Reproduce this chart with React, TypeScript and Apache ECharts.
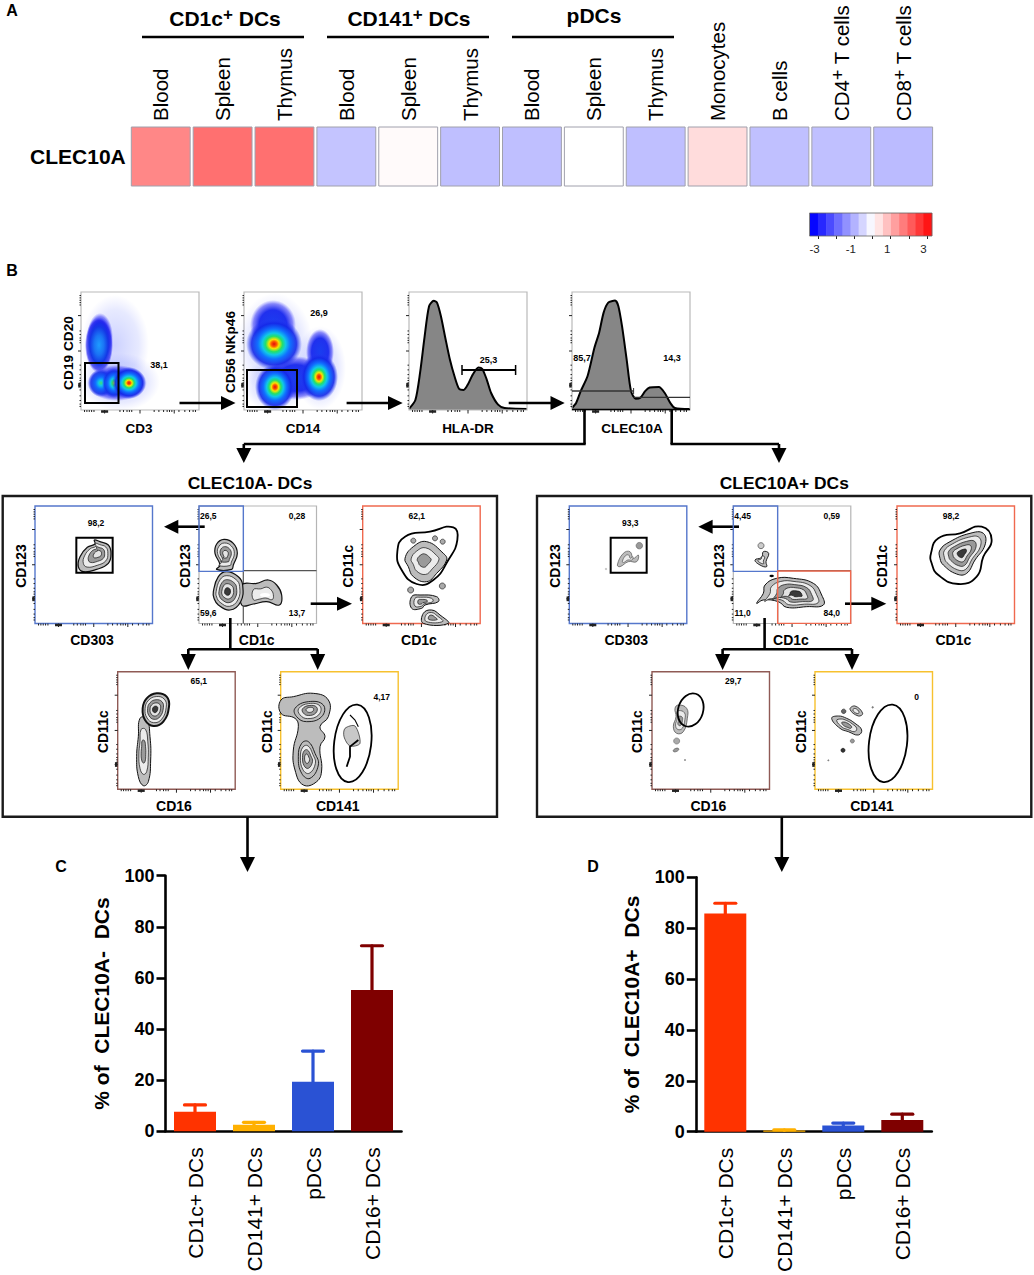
import React, { useEffect, useRef } from "react";
import * as echarts from "echarts";

const FONT = '"Liberation Sans", Arial, sans-serif';

// Panel A
const heatCategories = ["Blood", "Spleen", "Thymus", "Blood", "Spleen", "Thymus", "Blood", "Spleen", "Thymus", "Monocytes", "B cells", "CD4+ T cells", "CD8+ T cells"];
const heatValues = [1.55, 1.85, 1.85, -0.76, 0.07, -0.83, -0.83, 0, -0.83, 0.45, -0.82, -0.82, -0.88];
const heatRows = ["CLEC10A"];
const colorbarTicks = [-3, -1, 1, 3];
const colorbarSteps = [-3.22, -2.78, -2.33, -1.88, -1.43, -0.99, -0.54, -0.1, 0.35, 0.8, 1.24, 1.69, 2.14, 2.59, 3.03];

// Panels C and D
const barCategories = ["CD1c+ DCs", "CD141+ DCs", "pDCs", "CD16+ DCs"];
const barColors = ["#ff3300", "#ffb000", "#2a52d4", "#7f0000"];
const negativeMeans = [7.6, 2.6, 19.4, 55.3];
const negativeUpper = [10.3, 3.5, 31.4, 72.6];
const positiveMeans = [85.8, 0.5, 2.4, 4.6];
const positiveUpper = [89.8, 0.7, 3.4, 6.9];

// Histograms (percent of plot width, percent of plot height)
const hlaX = [0, 5.4, 9.3, 13.2, 17, 21, 23.7, 27, 31, 34.6, 38.5, 42.4, 46.3, 50, 54, 58.8, 62, 65.8, 69.6, 75.5, 81, 100];
const hlaY = [1, 8.5, 31, 62, 88, 92.5, 91, 79.7, 60, 43, 28.8, 18, 17, 21.8, 30, 36, 35, 26, 14.4, 4.5, 1.7, 0.8];
const clecX = [0, 3.5, 7.4, 13.2, 19, 23, 26.8, 30.7, 36.5, 39.3, 42.4, 46.3, 50, 54, 58, 62, 65.8, 73.6, 78.6, 83.3, 87.2, 100];
const clecY = [1.7, 6, 16, 28.8, 52.8, 65.5, 82.5, 91, 92.7, 88, 71, 42.9, 16, 9.6, 10.5, 16, 19, 19.5, 14.4, 6, 1.7, 0.8];

type P = [number, number];
const els: any[] = [];
const add = (e: any) => els.push({ silent: true, z: 10, ...e });
const line = (x1: number, y1: number, x2: number, y2: number, stroke = "#000", lineWidth = 2.6) =>
  add({ type: "line", shape: { x1, y1, x2, y2 }, style: { stroke, lineWidth } });
const frame = (x: number, y: number, w: number, h: number, stroke: string, lineWidth = 1.2) =>
  add({ type: "rect", shape: { x, y, width: w, height: h }, style: { fill: "none", stroke, lineWidth } });
const text = (x: number, y: number, t: string, fontSize: number, rot = 0, fontWeight: any = "bold") =>
  add({
    type: "text", x, y, rotation: rot,
    style: { text: t, fill: "#000", fontFamily: FONT, fontSize, fontWeight, align: "center", textAlign: "center", verticalAlign: "middle", textVerticalAlign: "middle" },
  });
const head = (pts: P[]) => add({ type: "polygon", shape: { points: pts }, style: { fill: "#000" } });
const arrowR = (x1: number, x2: number, y: number, hs: number, hw = 7) => {
  line(x1, y, hs + 1, y); head([[hs, y - hw], [x2, y], [hs, y + hw]]);
};
const arrowL = (x1: number, x2: number, y: number, hs: number, hw = 7) => {
  line(x1, y, hs - 1, y); head([[hs, y - hw], [x2, y], [hs, y + hw]]);
};
const arrowD = (x: number, y1: number, y2: number, hs: number, hw = 7.5) => {
  line(x, y1, x, hs + 1); head([[x - hw, hs], [x, y2], [x + hw, hs]]);
};

const tickFracs = [0.03, 0.05, 0.07, 0.09, 0.11, 0.2, 0.33, 0.36, 0.39, 0.41, 0.43, 0.5, 0.62, 0.66, 0.7, 0.73, 0.75, 0.77, 0.79, 0.83, 0.88, 0.92, 0.95, 0.97];
const ticks = (x: number, y: number, w: number, h: number) => {
  tickFracs.forEach((f) => {
    const major = f === 0.2 || f === 0.5 || f === 0.79;
    line(x + w * f, y + h, x + w * f, y + h + (major ? 3.5 : 2), "#222", 1);
    line(x - (major ? 3 : 1.5), y + h * f, x, y + h * f, "#222", 1);
  });
  line(x + w * 0.17, y + h + 1.5, x + w * 0.23, y + h + 1.5, "#222", 2.5);
  line(x - 1.5, y + h * 0.77, x - 1.5, y + h * 0.81, "#222", 2.5);
};

const blobFill = (stops: [number, string][]) =>
  new (echarts.graphic as any).RadialGradient(0.5, 0.5, 0.5, stops.map(([offset, color]) => ({ offset, color })));
const HOT: [number, string][] = [[0, "#e0100c"], [0.1, "#ff5a00"], [0.18, "#f5e600"], [0.3, "#22e06a"], [0.42, "#10c8e8"], [0.58, "#1070ff"], [0.8, "rgba(20,40,232,0.9)"], [1, "rgba(40,60,245,0)"]];
const WARM: [number, string][] = [[0, "#d8e800"], [0.14, "#30e060"], [0.3, "#10c8e8"], [0.5, "#1070ff"], [0.8, "rgba(20,50,232,0.8)"], [1, "rgba(40,60,245,0)"]];
const CYAN: [number, string][] = [[0, "#40e070"], [0.18, "#10c8e8"], [0.42, "#1070ff"], [0.78, "rgba(20,50,232,0.8)"], [1, "rgba(40,60,245,0)"]];
const COOL: [number, string][] = [[0, "#1e9cff"], [0.35, "#1a74f5"], [0.65, "#1438e6"], [0.88, "rgba(32,32,238,0.7)"], [1, "rgba(70,70,255,0)"]];
const DEEP: [number, string][] = [[0, "#1a3ef0"], [0.6, "#2030ee"], [0.85, "rgba(50,50,245,0.55)"], [1, "rgba(80,80,255,0)"]];
const DUST: [number, string][] = [[0, "rgba(60,80,255,0.26)"], [0.7, "rgba(70,90,255,0.13)"], [1, "rgba(90,100,255,0)"]];
const ell = (cx: number, cy: number, rx: number, ry: number, fill: any, rotation = 0, stroke?: string, lineWidth = 1) =>
  add({ type: "ellipse", x: cx, y: cy, rotation, shape: { cx: 0, cy: 0, rx, ry }, style: stroke ? { fill, stroke, lineWidth } : { fill } });

const GREYS = ["#bcbcbc", "#ececec", "#9a9a9a", "#e4e4e4", "#3a3a3a"];
const contour = (pts: P[], c: P, levels = 3, outer = 1.2, stroke = "#111") => {
  for (let i = 0; i < levels; i++) {
    const s = 1 - i / levels;
    add({
      type: "polygon",
      shape: { points: pts.map(([x, y]) => [c[0] + (x - c[0]) * s, c[1] + (y - c[1]) * s]), smooth: 0.45 },
      style: { fill: GREYS[i % GREYS.length], stroke, lineWidth: i === 0 ? outer : 0.7 },
    });
  }
};
const gateShape = (pts: P[], lineWidth = 1.8) =>
  add({ type: "polygon", shape: { points: pts, smooth: 0.5 }, style: { fill: "none", stroke: "#000", lineWidth } });

const buildPanelB = () => {
  // Panel letters
  text(12, 10, "A", 16); text(12, 270, "B", 16); text(61, 866, "C", 16); text(593, 866, "D", 16);

  // Panel A group headings
  [[142, 304], [327, 489], [512, 674]].forEach(([a, b]) => line(a, 37, b, 37, "#000", 2.4));
  const heading = (x: number, y: number, parts: string) =>
    add({
      type: "text", x, y,
      style: {
        text: parts, fontFamily: FONT, align: "center", textAlign: "center", verticalAlign: "middle", textVerticalAlign: "middle", fill: "#000",
        rich: {
          a: { fontFamily: FONT, fontSize: 21, fontWeight: "bold", fill: "#000", lineHeight: 24 },
          s: { fontFamily: FONT, fontSize: 17, fontWeight: "bold", fill: "#000", verticalAlign: "top", lineHeight: 24 },
        },
      },
    });
  heading(225, 18, "{a|CD1c}{s|+}{a| DCs}");
  heading(409, 18, "{a|CD141}{s|+}{a| DCs}");
  add({ type: "text", x: 594, y: 15, style: { text: "pDCs", fill: "#000", fontFamily: FONT, fontSize: 21, fontWeight: "bold", align: "center", textAlign: "center", verticalAlign: "middle", textVerticalAlign: "middle" } });
  frame(809.5, 213, 122.5, 23, "#666", 0.8);

  // Top row plots
  const top = 292, ph = 118, pw = 118;
  [81, 244, 409, 572].forEach((x) => { frame(x, top, pw, ph, "#b9b9b9"); ticks(x, top, pw, ph); });

  // plot 1
  ell(115, 345, 34, 50, blobFill(DUST));
  ell(120, 382, 40, 29, blobFill(DUST));
  ell(100, 337, 13, 24, blobFill(DEEP));
  ell(99, 345, 14, 28, blobFill(COOL));
  ell(117, 383, 30, 18, blobFill(DEEP));
  ell(101, 383, 13, 14, blobFill(CYAN));
  ell(114, 383, 12, 15, blobFill(WARM));
  ell(129, 383, 17, 16, blobFill(HOT));
  frame(85, 363, 33.5, 40, "#000", 2);
  text(159, 365, "38,1", 9);
  text(139, 428, "CD3", 13.5);
  text(68, 353, "CD19 CD20", 13.7, Math.PI / 2);

  // plot 2
  ell(275, 345, 38, 52, blobFill(DUST));
  ell(320, 368, 26, 42, blobFill(DUST));
  ell(275, 385, 32, 27, blobFill(DUST));
  ell(273, 325, 23, 25, blobFill(DEEP));
  ell(320, 352, 14, 23, blobFill(DEEP));
  ell(296, 378, 30, 22, blobFill(DEEP));
  ell(274, 344, 28, 26, blobFill(HOT));
  ell(275, 387, 20, 23, blobFill(HOT));
  ell(319, 377, 19, 24, blobFill(HOT));
  frame(247, 370, 50, 37, "#000", 2);
  text(319, 313, "26,9", 9);
  text(303, 428, "CD14", 13.5);
  text(230, 352, "CD56 NKp46", 13.7, Math.PI / 2);

  // plot 3 gate
  line(462, 370, 515.6, 370, "#000", 1.8);
  line(462, 365, 462, 375, "#000", 1.5);
  line(515.6, 365, 515.6, 375, "#000", 1.5);
  text(488.5, 360, "25,3", 9);
  text(468, 428, "HLA-DR", 13.5);

  // plot 4 gates
  line(572, 391, 633.6, 391, "#333", 1.3);
  line(633.6, 388, 633.6, 394, "#333", 1);
  line(633.6, 397.3, 690, 397.3, "#333", 1.3);
  line(572, 409.5, 690, 409.5, "#000", 1.5);
  text(582, 358, "85,7", 9);
  text(672, 358, "14,3", 9);
  text(632, 428, "CLEC10A", 13.5);

  // Flow arrows
  arrowR(179.5, 235.5, 403, 221);
  arrowR(346.6, 402.7, 403, 388);
  arrowR(508.7, 564.7, 403, 550.5);
  line(584.5, 410, 584.5, 444); line(585.7, 444, 243.8, 444);
  arrowD(243.8, 444, 463, 448);
  line(671.7, 410, 671.7, 444); line(670.5, 444, 779, 444);
  arrowD(779, 444, 463, 448);

  // Two large boxes
  [0, 534.3].forEach((dx, k) => {
    frame(2.7 + dx, 496, 494.3, 320.7, "#1a1a1a", 2.4);
    text(250 + dx, 482.7, k === 0 ? "CLEC10A- DCs" : "CLEC10A+ DCs", 17.4);
    const ya = 506, yb = 671.7, s = 117.5;
    frame(35 + dx, ya, s, s, "#5577cc", 1.4); ticks(35 + dx, ya, s, s);
    frame(199 + dx, ya, s, s, "#b5b5b5", 1.2); ticks(199 + dx, ya, s, s);
    frame(362.7 + dx, ya, s, s, "#f0694f", 1.4); ticks(362.7 + dx, ya, s, s);
    frame(117.7 + dx, yb, s, s, "#8f5a55", 1.4); ticks(117.7 + dx, yb, s, s);
    frame(280.7 + dx, yb, s, s, "#f7c12e", 1.4); ticks(280.7 + dx, yb, s, s);
    // quadrant lines
    line(243.3 + dx, 570.7, 316.5 + dx, 570.7, "#555", 1.2);
    line(243.3 + dx, 570.7, 243.3 + dx, 623.5, "#555", 1.2);

    text(92 + dx, 640, "CD303", 14);
    text(256.7 + dx, 640, "CD1c", 14);
    text(419 + dx, 640, "CD1c", 14);
    text(174 + dx, 806, "CD16", 14);
    text(337.7 + dx, 806, "CD141", 14);
    text(20.7 + dx, 566, "CD123", 14, Math.PI / 2);
    text(185 + dx, 566, "CD123", 14, Math.PI / 2);
    text(348 + dx, 566, "CD11c", 14, Math.PI / 2);
    text(103 + dx, 731.7, "CD11c", 14, Math.PI / 2);
    text(266.7 + dx, 731.7, "CD11c", 14, Math.PI / 2);

    arrowL(204.7 + dx, 164 + dx, 526.7, 178.3 + dx);
    arrowR(310.7 + dx, 352 + dx, 603.7, 337 + dx);
    line(230.3 + dx, 618, 230.3 + dx, 649.3);
    line(188.3 + dx, 649.3, 317.7 + dx, 649.3);
    arrowD(188.3 + dx, 649, 670, 654);
    arrowD(317.7 + dx, 649, 670, 654);
    line(247.5 + dx, 817, 247.5 + dx, 858);
    head([[240 + dx, 857], [247.5 + dx, 872], [255 + dx, 857]]);
  });

  const L = (x: number, y: number): P => [x / 3, 470 + y / 3];
  const LP = (a: number[][]) => a.map(([x, y]) => L(x, y));
  const R = (x: number, y: number): P => [530 + x / 3, 470 + y / 3];
  const RP = (a: number[][]) => a.map(([x, y]) => R(x, y));
  const dot = (p: P, r: number, fill = "#aaa", stroke = "#222") => ell(p[0], p[1], r, r, fill, 0, stroke, 0.7);

  // ---- Left box, contour plots
  contour(LP([[235, 290], [240, 260], [262, 232], [285, 222], [283, 210], [300, 215], [325, 225], [333, 250], [325, 280], [290, 298], [250, 305]]), L(295, 250), 4);
  frame(229 / 3, 470 + 203 / 3, 109 / 3, 105 / 3, "#000", 2);
  contour(LP([[645, 250], [650, 222], [672, 208], [700, 220], [712, 250], [700, 285], [695, 298], [650, 298], [660, 285]]), L(676, 252), 4);
  contour(LP([[725, 345], [770, 340], [805, 330], [830, 345], [845, 375], [838, 405], [800, 395], [760, 402], [725, 405]]), L(795, 373), 2);
  ell(L(795, 375)[0], L(795, 375)[1], 5, 2, "#fff");
  contour(LP([[640, 365], [655, 320], [680, 305], [715, 320], [728, 345], [722, 395], [690, 420], [655, 405], [642, 385]]), L(682, 365), 5);

  gateShape(LP([[1192, 245], [1215, 200], [1290, 185], [1360, 172], [1372, 210], [1345, 270], [1300, 330], [1250, 342], [1205, 300]]));
  contour(LP([[1215, 265], [1240, 230], [1280, 215], [1330, 250], [1340, 270], [1310, 310], [1280, 335], [1240, 320], [1225, 290]]), L(1270, 270), 3, 1);
  contour(LP([[1235, 380], [1260, 375], [1310, 380], [1315, 395], [1275, 405], [1265, 415], [1235, 415]]), L(1265, 395), 3, 1);
  contour(LP([[1270, 430], [1295, 420], [1320, 435], [1345, 460], [1270, 460]]), L(1295, 443), 3, 1);
  dot(L(1240, 212), 2.5); dot(L(1305, 205), 2.5); dot(L(1328, 215), 2.5); dot(L(1327, 348), 3); dot(L(1232, 360), 3);

  contour(LP([[420, 745], [440, 745], [450, 800], [452, 870], [445, 935], [430, 947], [415, 920], [410, 860], [415, 800]]), L(430, 845), 3, 1);
  contour(LP([[428, 715], [440, 685], [470, 670], [500, 680], [507, 710], [490, 755], [460, 768], [435, 750]]), L(465, 718), 5, 2);

  contour(LP([[843, 690], [880, 680], [940, 670], [985, 690], [985, 740], [960, 770], [975, 800], [960, 830], [965, 900], [950, 935], [910, 945], [885, 900], [880, 840], [895, 770], [885, 745], [843, 730]]), L(925, 790), 1, 1);
  contour(LP([[885, 715], [925, 695], [970, 705], [965, 740], [920, 755], [890, 740]]), L(930, 718), 4, 0.9);
  contour(LP([[905, 820], [925, 815], [945, 850], [955, 885], [930, 925], [905, 910], [895, 860]]), L(920, 865), 4, 0.9);
  const e1 = L(1058, 820);
  ell(e1[0], e1[1], 18.5, 39, "none", -0.12, "#000", 1.8);
  add({ type: "polygon", shape: { points: LP([[1035, 775], [1065, 768], [1080, 820], [1050, 828], [1032, 800]]), smooth: 0.3 }, style: { fill: "#c8c8c8", stroke: "#000", lineWidth: 0.6 } });
  add({ type: "polyline", shape: { points: LP([[1050, 735], [1065, 750], [1075, 770]]) }, style: { stroke: "#000", lineWidth: 1.1, fill: "none" } });
  add({ type: "polyline", shape: { points: LP([[1075, 810], [1050, 830], [1050, 860], [1040, 890]]) }, style: { stroke: "#000", lineWidth: 1.8, fill: "none" } });

  frame(597 / 3, 506, 133 / 3, 196 / 3, "#5577cc", 1.4);

  text(96, 522.7, "98,2", 8.5); text(208.3, 515.7, "26,5", 8.5); text(297, 515.7, "0,28", 8.5);
  text(208.3, 613, "59,6", 8.5); text(297, 613, "13,7", 8.5); text(416.7, 515.7, "62,1", 8.5);
  text(198.7, 681, "65,1", 8.5); text(381.7, 696.7, "4,17", 8.5);

  // ---- Right box, contour plots
  frame(530 + 242 / 3, 470 + 203 / 3, 108 / 3, 105 / 3, "#000", 2);
  contour(RP([[262, 285], [280, 250], [300, 245], [310, 265], [325, 255], [320, 275], [295, 275], [270, 290]]), R(292, 265), 2, 0.7, "#555");
  dot(R(328, 227), 3.2, "#999", "#666"); dot(R(228, 297), 0.8, "#bbb", "#bbb");

  dot(R(693, 227), 3, "#ccc", "#444");
  contour(RP([[675, 270], [695, 262], [700, 245], [716, 250], [708, 275], [710, 290], [690, 285]]), R(692, 272), 2, 0.9);
  ell(R(725, 318)[0], R(725, 318)[1], 2.2, 1.2, "#000");
  contour(RP([[680, 400], [700, 370], [705, 345], [740, 325], [790, 325], [850, 340], [875, 375], [880, 405], [830, 410], [770, 412], [745, 395], [700, 390]]), R(800, 372), 5, 1);
  frame(530 + 610 / 3, 506, 133 / 3, 196 / 3, "#5577cc", 1.4);
  frame(530 + 743 / 3, 470 + 303 / 3, 219 / 3, 157 / 3, "#f0694f", 1.4);

  gateShape(RP([[1203, 250], [1225, 205], [1290, 190], [1355, 170], [1385, 210], [1360, 260], [1340, 320], [1285, 342], [1225, 315], [1205, 280]]));
  contour(RP([[1230, 240], [1260, 215], [1320, 190], [1360, 190], [1365, 225], [1335, 270], [1310, 310], [1280, 312], [1240, 285], [1230, 265]]), R(1295, 250), 5, 1);

  contour(RP([[435, 715], [445, 705], [470, 715], [472, 745], [460, 785], [440, 790], [430, 770], [438, 740]]), R(450, 755), 3, 0.7, "#444");
  dot(R(440, 813), 3, "#aaa", "#777");
  ell(R(438, 840)[0], R(438, 840)[1], 3, 1.6, "#999", 0.4, "#555", 0.6);
  dot(R(465, 870), 0.6, "#777", "#777");
  const e2 = R(482, 720);
  ell(e2[0], e2[1], 12.5, 17, "none", -0.3, "#000", 1.8);

  contour(RP([[905, 745], [925, 738], [950, 745], [975, 760], [995, 780], [985, 795], [955, 785], [930, 775]]), R(950, 765), 3, 0.9);
  contour(RP([[960, 718], [975, 708], [998, 730], [985, 738]]), R(977, 723), 2, 0.8);
  dot(R(941, 724), 2.2, "#666", "#222");
  dot(R(967, 813), 2, "#999", "#666");
  dot(R(939, 841), 2, "#333", "#111");
  dot(R(1028, 712), 0.8, "#777", "#777");
  dot(R(895, 871), 0.6, "#777", "#777");
  const e3 = R(1074, 820);
  ell(e3[0], e3[1], 19, 39, "none", -0.12, "#000", 1.8);

  const o = 534.3;
  text(96 + o, 522.7, "93,3", 8.5); text(208.3 + o, 515.7, "4,45", 8.5); text(297.5 + o, 515.7, "0,59", 8.5);
  text(208.3 + o, 613, "11,0", 8.5); text(297.5 + o, 613, "84,0", 8.5); text(416.7 + o, 515.7, "98,2", 8.5);
  text(199 + o, 681, "29,7", 8.5); text(382.4 + o, 696.7, "0", 8.5);
};

const zip = (a: number[], b: number[]) => a.map((v, i) => [v, b[i]]);

const barGrid = (gridIndex: number, name: string, nameGap: number) => ({
  x: {
    type: "category", gridIndex, data: barCategories, position: "bottom",
    axisLine: { lineStyle: { color: "#000", width: 2.6 } },
    axisTick: { alignWithLabel: true, length: 8, lineStyle: { color: "#000", width: 2.6 } },
    axisLabel: { rotate: 90, margin: 16, fontFamily: FONT, fontSize: 21, color: "#000", interval: 0 },
  },
  y: {
    type: "value", gridIndex, min: 0, max: 100, interval: 20,
    name, nameLocation: "middle", nameRotate: 90, nameGap,
    nameTextStyle: { fontFamily: FONT, fontSize: 21, fontWeight: "bold", color: "#000" },
    splitLine: { show: false },
    axisLine: { show: true, lineStyle: { color: "#000", width: 2.6 } },
    axisTick: { show: true, length: 9, lineStyle: { color: "#000", width: 2.6 } },
    axisLabel: { margin: 11, fontFamily: FONT, fontSize: 18, fontWeight: "bold", color: "#000" },
  },
});

const barSeries = (axisIndex: number, means: number[], upper: number[]) => [
  {
    type: "custom", xAxisIndex: axisIndex, yAxisIndex: axisIndex, z: 1,
    data: upper.map((u, i) => [i, u, means[i]]),
    encode: { x: 0, y: 1 },
    renderItem: (params: any, api: any) => {
      const c = api.coord([api.value(0), api.value(1)]);
      const b = api.coord([api.value(0), api.value(2)]);
      const color = barColors[params.dataIndex];
      const st = { stroke: color, lineWidth: 3.2, lineCap: "round" };
      return {
        type: "group",
        children: [
          { type: "line", shape: { x1: c[0], y1: c[1], x2: b[0], y2: b[1] }, style: st },
          { type: "line", shape: { x1: c[0] - 10.5, y1: c[1], x2: c[0] + 10.5, y2: c[1] }, style: st },
        ],
      };
    },
  },
  {
    type: "bar", xAxisIndex: axisIndex, yAxisIndex: axisIndex, z: 2, barWidth: 42,
    data: means.map((v, i) => ({ value: v, itemStyle: { color: barColors[i] } })),
  },
];

const histSeries = (axisIndex: number, xs: number[], ys: number[]) => ({
  type: "line", xAxisIndex: axisIndex, yAxisIndex: axisIndex, data: zip(xs, ys), smooth: 0.25,
  symbol: "none", lineStyle: { color: "#000", width: 2 }, areaStyle: { color: "#868686", opacity: 1 },
});

const hiddenAxis = (gridIndex: number) => ({ type: "value", gridIndex, min: 0, max: 100, show: false });

export default function App() {
  const ref = useRef<HTMLDivElement>(null);
  useEffect(() => {
    document.body.style.margin = "0";
    document.body.style.background = "#fff";
    const chart = echarts.init(ref.current!, null, { renderer: "svg" });
    els.length = 0;
    buildPanelB();
    const c = barGrid(2, "% of  CLEC10A-  DCs", 54);
    const d = barGrid(3, "% of  CLEC10A+  DCs", 54);
    chart.setOption({
      animation: false,
      backgroundColor: "#fff",
      textStyle: { fontFamily: FONT },
      tooltip: { show: false },
      grid: [
        { left: 129.8, top: 127, width: 804.3, height: 59 },
        { left: 818, top: 213, width: 109, height: 23 },
        { left: 165.5, top: 875.7, width: 236, height: 255.6 },
        { left: 695.8, top: 877.3, width: 236, height: 255.4 },
        { left: 409, top: 292, width: 118, height: 118 },
        { left: 572, top: 292, width: 118, height: 118 },
      ],
      xAxis: [
        {
          type: "category", gridIndex: 0, position: "top", data: heatCategories,
          axisLine: { show: false }, axisTick: { show: false },
          axisLabel: {
            interval: 0, rotate: -90, margin: 6, fontFamily: FONT, fontSize: 20.5, color: "#000",
            formatter: (v: string) => {
              const m = v.match(/^(CD\d)\+(.*)$/);
              return m ? `{n|${m[1]}}{s|+}{n|${m[2]}}` : `{n|${v}}`;
            },
            rich: {
              n: { fontFamily: FONT, fontSize: 20.5, color: "#000", lineHeight: 24 },
              s: { fontFamily: FONT, fontSize: 18, color: "#000", verticalAlign: "top", lineHeight: 24 },
            },
          },
        },
        {
          type: "value", gridIndex: 1, min: -3, max: 3, interval: 1, position: "bottom",
          splitLine: { show: false }, axisLine: { show: false },
          axisTick: { show: true, length: 3, lineStyle: { color: "#222", width: 1 } },
          axisLabel: {
            margin: 7, padding: [0, 7, 0, 0], fontFamily: FONT, fontSize: 11.5, color: "#222",
            formatter: (v: number) => (colorbarTicks.includes(v) ? String(v) : ""),
          },
        },
        c.x, d.x,
        hiddenAxis(4), hiddenAxis(5),
      ],
      yAxis: [
        {
          type: "category", gridIndex: 0, data: heatRows,
          axisLine: { show: false }, axisTick: { show: false },
          axisLabel: { margin: 4, fontFamily: FONT, fontSize: 21, fontWeight: "bold", color: "#000" },
        },
        { type: "value", gridIndex: 1, show: false, min: 0, max: 1 },
        c.y, d.y,
        hiddenAxis(4), hiddenAxis(5),
      ],
      visualMap: {
        type: "continuous", show: false, seriesIndex: [0, 1], dimension: 2, min: -3.3, max: 3.3,
        inRange: { color: ["#0000ff", "#ffffff", "#ff0000"] },
      },
      series: [
        {
          type: "custom", xAxisIndex: 0, yAxisIndex: 0,
          dimensions: ["x", "y", "value"], encode: { x: 0, y: 1 },
          data: heatValues.map((v, i) => [i, 0, v]),
          renderItem: (_p: any, api: any) => {
            const center = api.coord([api.value(0), 0]);
            const size = api.size([1, 1]);
            const w = size[0] - 3;
            return {
              type: "rect",
              shape: { x: center[0] - w / 2, y: center[1] - size[1] / 2, width: w, height: size[1] },
              style: { fill: api.visual("color"), stroke: "#a0a0ac", lineWidth: 1 },
            };
          },
        },
        {
          type: "custom", xAxisIndex: 1, yAxisIndex: 1,
          dimensions: ["x", "y", "value"], encode: { x: 0, y: 1 },
          data: colorbarSteps.map((v) => [v, 0, v]),
          renderItem: (_p: any, api: any) => {
            const a = api.coord([api.value(0) - 0.225, 1]);
            const b = api.coord([api.value(0) + 0.225, 0]);
            return {
              type: "rect",
              shape: { x: a[0], y: a[1], width: b[0] - a[0] + 0.5, height: b[1] - a[1] },
              style: { fill: api.visual("color") },
            };
          },
        },
        ...barSeries(2, negativeMeans, negativeUpper),
        ...barSeries(3, positiveMeans, positiveUpper),
        histSeries(4, hlaX, hlaY),
        histSeries(5, clecX, clecY),
      ],
      graphic: { elements: els },
    });
    return () => chart.dispose();
  }, []);
  return <div ref={ref} style={{ position: "absolute", left: 0, top: 0, width: 1034, height: 1275 }} />;
}
